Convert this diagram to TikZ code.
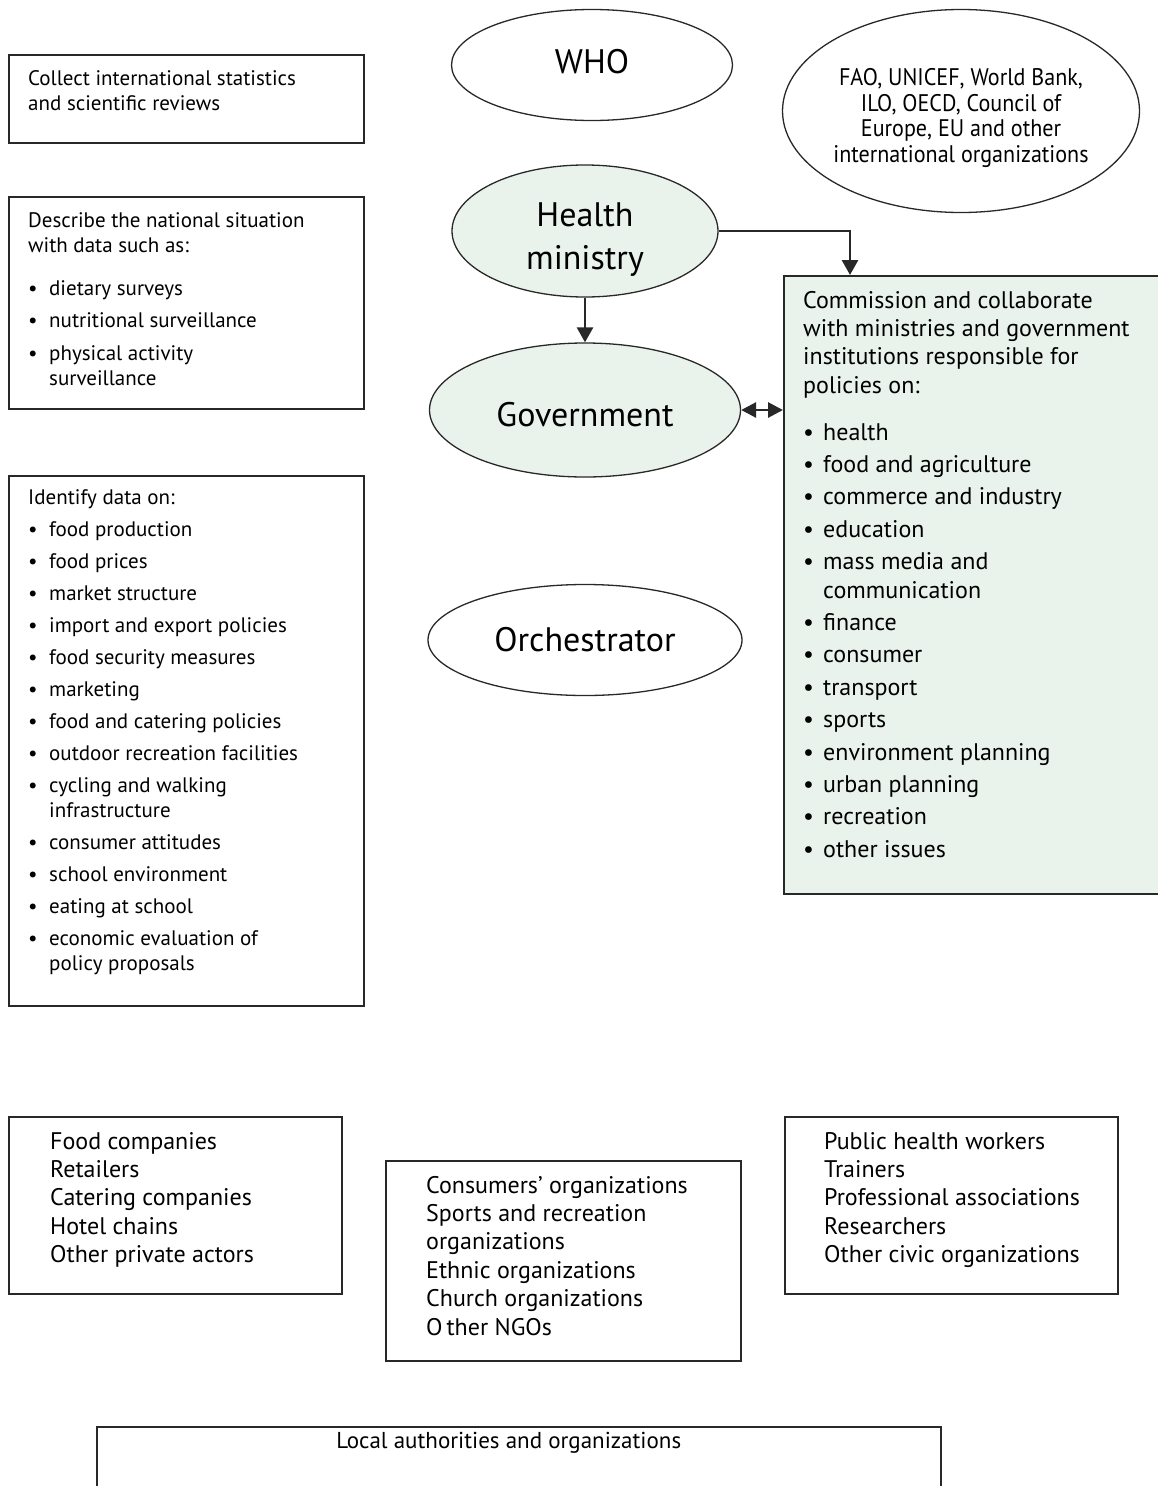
\documentclass[tikz,border=0pt]{standalone}
\usepackage{fontspec}
\setmainfont{PT Sans}
\newfontfamily\condfont[FakeStretch=0.92]{PT Sans}
\usetikzlibrary{shapes.geometric,arrows.meta}
\definecolor{lgreen}{RGB}{233,243,236}
\definecolor{edge}{RGB}{40,40,40}
\newlength\bind
\newcommand\bitem[1]{\par\hangindent=\bind\hangafter=1\noindent\makebox[\bind][l]{\textbullet}#1}
\newcommand\shiftdown[2]{\raisebox{-#1}[\height][\depth]{\makebox[0pt]{#2}}}
\newcommand\fsmall{\fontsize{21}{25.3}\selectfont}
\newcommand\fmed{\fontsize{24}{28.4}\selectfont}
\newcommand\fbig{\fontsize{34}{43}\selectfont}
\tikzset{
  box/.style={draw=edge, line width=1.5pt, anchor=north west, inner sep=0pt},
  txt/.style={inner sep=0pt, anchor=base west},
  oval/.style={draw=edge, line width=1.3pt, ellipse, inner sep=0pt, align=center},
  arr/.style={draw=edge, line width=2.8pt, -{Triangle[length=15pt,width=16pt]}},
  darr/.style={draw=edge, line width=2.8pt, {Triangle[length=15pt,width=15pt]}-{Triangle[length=15pt,width=15pt]}}
}
\begin{document}
\begin{tikzpicture}[x=1pt,y=-1pt]
\useasboundingbox (0,0) rectangle (1158,1486);

% ---------- left column ----------
\node[box, minimum width=355pt, minimum height=88pt] (collect) at (8,54) {};
\node[txt] (collectT) at ([shift={(20pt,-31pt)}]collect.north west)
  {\parbox[t]{330pt}{\fsmall\raggedright Collect international statistics\\and scientific reviews}};

\node[box, minimum width=355pt, minimum height=212pt] (describe) at (8,196) {};
\node[txt] (describeT) at ([shift={(20pt,-31pt)}]describe.north west)
  {\parbox[t]{330pt}{\fsmall\raggedright\setlength\parskip{7pt}\setlength\bind{21pt}%
  Describe the national situation\\with data such as:\par\vspace{11pt}%
  \bitem{dietary surveys}
  \bitem{nutritional surveillance}
  \bitem{physical activity\newline surveillance}}};

\node[box, minimum width=355pt, minimum height=530pt] (identify) at (8,475) {};
\node[txt] (identifyT) at ([shift={(20pt,-29pt)}]identify.north west)
  {\parbox[t]{330pt}{\fsmall\raggedright\setlength\parskip{6.7pt}\setlength\bind{21pt}%
  Identify data on:
  \bitem{food production}
  \bitem{food prices}
  \bitem{market structure}
  \bitem{import and export policies}
  \bitem{food security measures}
  \bitem{marketing}
  \bitem{food and catering policies}
  \bitem{outdoor recreation facilities}
  \bitem{cycling and walking\newline infrastructure}
  \bitem{consumer attitudes}
  \bitem{school environment}
  \bitem{eating at school}
  \bitem{economic evaluation of\newline policy proposals}}};

% ---------- ellipses ----------
\node[oval, minimum width=281pt, minimum height=111pt] (who) at (592,65)
  {\shiftdown{-3pt}{\fbig WHO}};
\node[oval, minimum width=357pt, minimum height=203pt] (intl) at (961,111)
  {\shiftdown{7pt}{\parbox{345pt}{\centering\condfont\fontsize{24}{25.4}\selectfont
  FAO, UNICEF, World Bank,\\ILO, OECD, Council of\\Europe, EU and other\\international organizations}}};
\node[oval, fill=lgreen, minimum width=266pt, minimum height=132pt] (health) at (585,231)
  {\shiftdown{9pt}{\parbox{250pt}{\centering\fbig Health\\ministry}}};
\node[oval, fill=lgreen, minimum width=311pt, minimum height=134pt] (gov) at (585,410)
  {\shiftdown{5pt}{\fbig Government}};
\node[oval, minimum width=314pt, minimum height=111pt] (orch) at (585,640)
  {\shiftdown{0pt}{\fbig Orchestrator}};

% ---------- policy box ----------
\node[box, fill=lgreen, minimum width=380pt, minimum height=618pt] (policy) at (783,275) {};
\node[txt] (policyT) at ([shift={(20pt,-33pt)}]policy.north west)
  {\parbox[t]{350pt}{\fmed\raggedright\setlength\parskip{4pt}\setlength\bind{20pt}%
  Commission and collaborate\\with ministries and government\\institutions responsible for\\policies on:\par\vspace{14.5pt}%
  \bitem{health}
  \bitem{food and agriculture}
  \bitem{commerce and industry}
  \bitem{education}
  \bitem{mass media and\newline communication}
  \bitem{finance}
  \bitem{consumer}
  \bitem{transport}
  \bitem{sports}
  \bitem{environment planning}
  \bitem{urban planning}
  \bitem{recreation}
  \bitem{other issues}}};

% ---------- connectors ----------
\draw[arr] (health.south) -- (gov.north);
\draw[arr] (health.east) -| ([xshift=67pt]policy.north west);
\draw[darr] (gov.east) -- (gov.east -| policy.west);

% ---------- bottom boxes ----------
\node[box, minimum width=333pt, minimum height=177pt] (private) at (8,1116) {};
\node[txt] (privateT) at ([shift={(42pt,-33pt)}]private.north west)
  {\parbox[t]{290pt}{\fmed\raggedright Food companies\\Retailers\\Catering companies\\Hotel chains\\Other private actors}};

\node[box, minimum width=355pt, minimum height=200pt] (ngo) at (385,1160) {};
\node[txt] (ngoT) at ([shift={(41pt,-33pt)}]ngo.north west)
  {\parbox[t]{310pt}{\fmed\raggedright Consumers’ organizations\\Sports and recreation\\organizations\\Ethnic organizations\\Church organizations\\O\,ther NGOs}};

\node[box, minimum width=333pt, minimum height=177pt] (civic) at (784,1116) {};
\node[txt] (civicT) at ([shift={(40pt,-33pt)}]civic.north west)
  {\parbox[t]{290pt}{\fmed\raggedright Public health workers\\Trainers\\Professional associations\\Researchers\\Other civic organizations}};

\node[box, minimum width=844pt, minimum height=120pt] (local) at (96,1426) {};
\node[inner sep=0pt, anchor=base, font={\fontsize{23}{26}\selectfont}] (localT) at ([shift={(-10pt,-22pt)}]local.north) {Local authorities and organizations};
\end{tikzpicture}
\end{document}
